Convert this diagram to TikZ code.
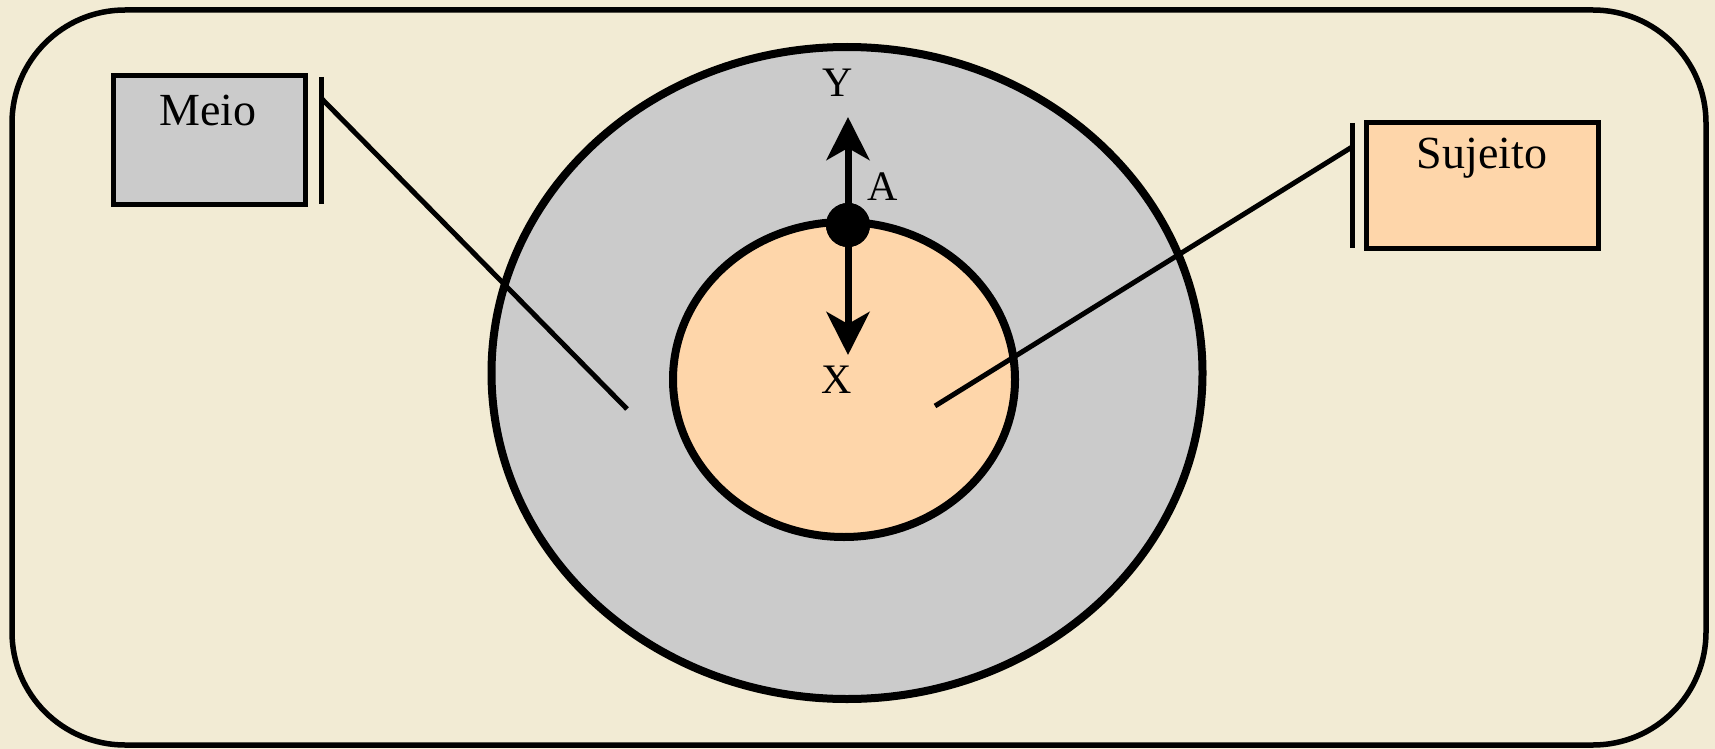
\documentclass[tikz,border=0pt]{standalone}
\usepackage{fontspec}
\setmainfont{Liberation Serif}
\usetikzlibrary{shapes.geometric,arrows.meta}
\definecolor{bg}{HTML}{F2EBD4}
\definecolor{grayfill}{HTML}{CBCBCB}
\definecolor{peach}{HTML}{FED6AA}
\begin{document}
\begin{tikzpicture}[x=1pt,y=-1pt,
  frame/.style={draw, line width=5.5pt, rounded corners=113pt, minimum width=1694pt, minimum height=735pt, inner sep=0pt},
  ring/.style={ellipse, draw, line width=8pt, inner sep=0pt},
  box/.style={draw, line width=5pt, inner sep=0pt},
  boxtext/.style={font=\fontsize{46}{54}\selectfont},
  axlabel/.style={font=\fontsize{42}{50}\selectfont},
  bracket/.style={line width=5pt},
  conn/.style={line width=5pt},
  arr/.style={line width=7pt, -{Stealth[length=43pt, width=43pt, inset=12pt]}}
]
\fill[bg] (0,0) rectangle (1715,749);
\useasboundingbox (0,0) rectangle (1715,749);
\node[frame] (frame) at (859,377.5) {};
% ellipses
\node[ring, fill=grayfill, minimum width=711pt, minimum height=652pt] (outer) at (847,373) {};
\node[ring, fill=peach, minimum width=342pt, minimum height=315pt] (inner) at (844,379.5) {};
% arrows
\coordinate (ytip) at (848,117);
\coordinate (xtip) at (848,355);
\node[circle, fill=black, minimum size=44pt, inner sep=0pt] (A) at (848,225) {};
\draw[arr] (A.center) -- (ytip);
\draw[arr] (A.center) -- (xtip);
\node[circle, fill=black, minimum size=44pt, inner sep=0pt] at (A) {};
\node[axlabel] (Y) at (838,83) {Y};
\node[axlabel] (Alab) at (883,187) {A};
\node[axlabel] (X) at (837,380) {X};
% Meio
\node[box, fill=grayfill, minimum width=192pt, minimum height=128pt] (meio) at (209,140) {};
\node[boxtext] (meiot) at (208,110) {Meio};
\coordinate (mb1) at (321,77);
\coordinate (mb2) at (321,204);
\draw[bracket] (mb1) -- (mb2);
\coordinate (ms) at (321,98);
\coordinate (me) at (627,409);
\draw[conn] (ms) -- (me);
% Sujeito
\node[box, fill=peach, minimum width=232pt, minimum height=125pt] (suj) at (1482,185.5) {};
\node[boxtext] (sujt) at (1482,158) {Sujeito};
\coordinate (sb1) at (1352,123);
\coordinate (sb2) at (1352,248);
\draw[bracket] (sb1) -- (sb2);
\coordinate (ss) at (1352,147);
\coordinate (se) at (935,406);
\draw[conn] (ss) -- (se);
\end{tikzpicture}
\end{document}
